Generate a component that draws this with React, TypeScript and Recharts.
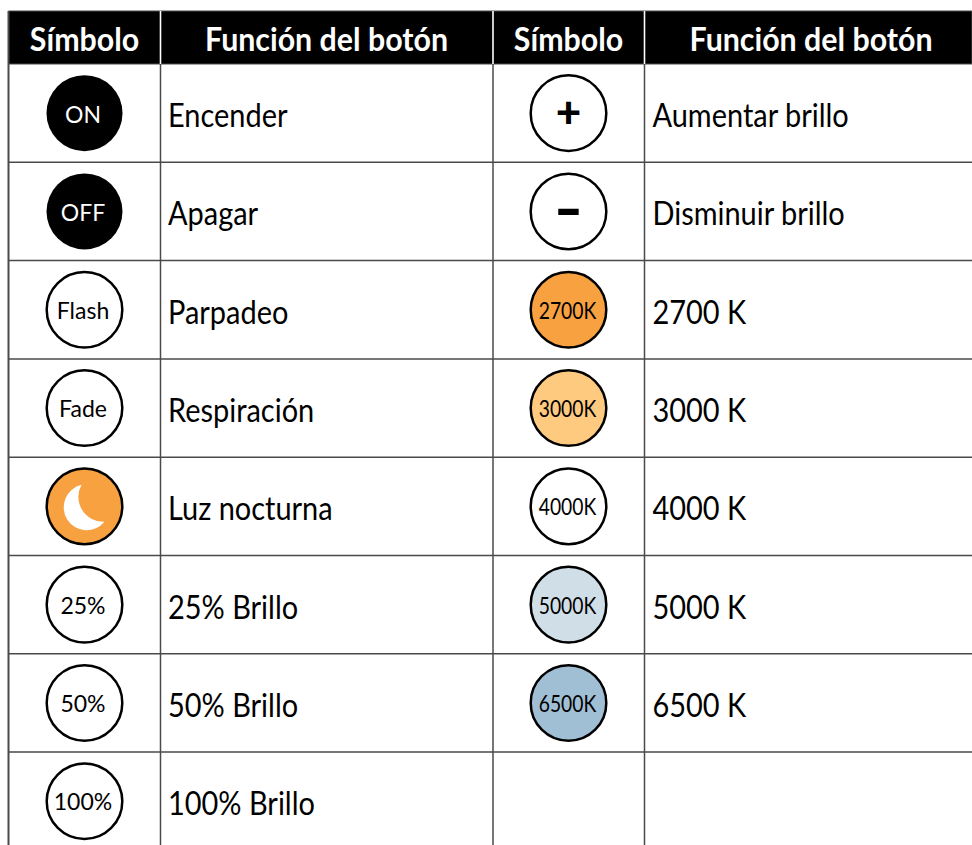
import React from "react";
import { ScatterChart, Scatter, XAxis, YAxis, ReferenceLine, ReferenceArea } from "recharts";

const headerSymbol = "Símbolo";
const headerFunction = "Función del botón";

const leftSymbols = ["ON", "OFF", "Flash", "Fade", "", "25%", "50%", "100%"];
const leftFunctions = ["Encender", "Apagar", "Parpadeo", "Respiración", "Luz nocturna", "25% Brillo", "50% Brillo", "100% Brillo"];
const leftFills = ["#000000", "#000000", "#ffffff", "#ffffff", "#f7a140", "#ffffff", "#ffffff", "#ffffff"];

const rightSymbols = ["+", "-", "2700K", "3000K", "4000K", "5000K", "6500K"];
const rightFunctions = ["Aumentar brillo", "Disminuir brillo", "2700 K", "3000 K", "4000 K", "5000 K", "6500 K"];
const rightFills = ["#ffffff", "#ffffff", "#f7a140", "#fdca80", "#ffffff", "#d0dfe7", "#a0bfd5"];

// table layout, x axis runs in page pixels and y axis in table rows
const WIDTH = 972;
const HEIGHT = 845;
const ROW_HEIGHT = 98.3;
const HEADER_TOP = -53 / ROW_HEIGHT;
const Y_MIN = -64 / ROW_HEIGHT;
const Y_MAX = (HEIGHT - 64) / ROW_HEIGHT;
const TABLE_LEFT = 8.5;
const COL_LINES = [160.5, 493, 644.5];
const SYMBOL_X = [84.5, 568.5];
const TEXT_X = [168, 652.5];
const HEADER_X = [84.5, 326.5, 568.5, 811];
const ROW_LINES = [1, 2, 3, 4, 5, 6, 7];
const GRID = "#4a4a4a";
const FONT = "Lato, sans-serif";

const symbolRows = [
  ...leftSymbols.map((symbol, i) => ({ x: SYMBOL_X[0], y: i + 0.5, symbol, fill: leftFills[i] })),
  ...rightSymbols.map((symbol, i) => ({ x: SYMBOL_X[1], y: i + 0.5, symbol, fill: rightFills[i] })),
];
const functionRows = [
  ...leftFunctions.map((label, i) => ({ x: TEXT_X[0], y: i + 0.5, label })),
  ...rightFunctions.map((label, i) => ({ x: TEXT_X[1], y: i + 0.5, label })),
];
const headerRows = HEADER_X.map((x, i) => ({ x, y: HEADER_TOP / 2, label: i % 2 === 0 ? headerSymbol : headerFunction }));

function SymbolShape(props: any) {
  const { cx, cy, payload } = props;
  const { symbol, fill } = payload;
  const isKelvin = symbol.endsWith("K");
  const dark = fill === "#000000";
  let label = (
    <text x={-1.5} y={dark ? 10 : 9} textAnchor="middle" fontFamily={FONT} fontSize={23} fontWeight={400} fill={dark ? "#fff" : "#000"}>
      {symbol}
    </text>
  );
  if (isKelvin) {
    label = (
      <text transform="translate(-1,9) scale(0.84,1)" textAnchor="middle" fontFamily={FONT} fontSize={23} fontWeight={400} fill="#000">
        {symbol}
      </text>
    );
  } else if (symbol === "+") {
    label = (
      <text x={0} y={15} textAnchor="middle" fontFamily={FONT} fontSize={44} fontWeight={900} fill="#000">
        {symbol}
      </text>
    );
  } else if (symbol === "-") {
    label = (
      <text transform="translate(0,18) scale(1.55,1.1)" textAnchor="middle" fontFamily={FONT} fontSize={50} fontWeight={900} fill="#000">
        {symbol}
      </text>
    );
  } else if (symbol === "") {
    label = <path d="M -3 -21.5 A 23 23 0 1 0 20 15.5 A 25 25 0 0 1 -3 -21.5 Z" fill="#fff" />;
  }
  return (
    <g transform={`translate(${cx},${cy})`}>
      <circle r={dark ? 38 : 37.8} fill={fill} stroke={dark ? "none" : "#000"} strokeWidth={2.5} />
      {label}
    </g>
  );
}

function FunctionShape(props: any) {
  const { cx, cy, payload } = props;
  return (
    <text
      transform={`translate(${cx},${cy + 14}) scale(0.905,1)`}
      fontFamily={FONT}
      fontSize={32}
      fontWeight={400}
      fill="#000"
    >
      {payload.label}
    </text>
  );
}

function HeaderShape(props: any) {
  const { cx, cy, payload } = props;
  return (
    <text
      transform={`translate(${cx},${cy + 13.5}) scale(0.92,1)`}
      textAnchor="middle"
      fontFamily={FONT}
      fontSize={33}
      fontWeight={700}
      fill="#fff"
    >
      {payload.label}
    </text>
  );
}

export default function App() {
  return (
    <div style={{ position: "absolute", left: 0, top: 0, width: WIDTH, height: HEIGHT, overflow: "hidden", background: "#fff" }}>
      <ScatterChart width={WIDTH} height={HEIGHT} margin={{ top: 0, right: 0, bottom: 0, left: 0 }}>
        <XAxis type="number" dataKey="x" domain={[0, WIDTH]} hide />
        <YAxis type="number" dataKey="y" domain={[Y_MIN, Y_MAX]} reversed hide />
        {ROW_LINES.map((r) => (
          <ReferenceLine key={r} segment={[{ x: TABLE_LEFT, y: r }, { x: WIDTH, y: r }]} stroke={GRID} strokeWidth={1.5} />
        ))}
        {[TABLE_LEFT, ...COL_LINES].map((x) => (
          <ReferenceLine key={x} stroke={GRID} strokeWidth={x === TABLE_LEFT ? 2 : 1.5} segment={[{ x, y: HEADER_TOP }, { x, y: Y_MAX }]} />
        ))}
        <ReferenceArea x1={TABLE_LEFT} x2={WIDTH} y1={HEADER_TOP} y2={0} fill="#000" fillOpacity={1} stroke={GRID} strokeWidth={1} />
        {COL_LINES.map((x) => (
          <ReferenceLine key={`h${x}`} stroke="#ffffff" strokeWidth={1.5} segment={[{ x, y: HEADER_TOP }, { x, y: 0 }]} />
        ))}
        <Scatter data={symbolRows} shape={SymbolShape} isAnimationActive={false} />
        <Scatter data={functionRows} shape={FunctionShape} isAnimationActive={false} />
        <Scatter data={headerRows} shape={HeaderShape} isAnimationActive={false} />
      </ScatterChart>
    </div>
  );
}
